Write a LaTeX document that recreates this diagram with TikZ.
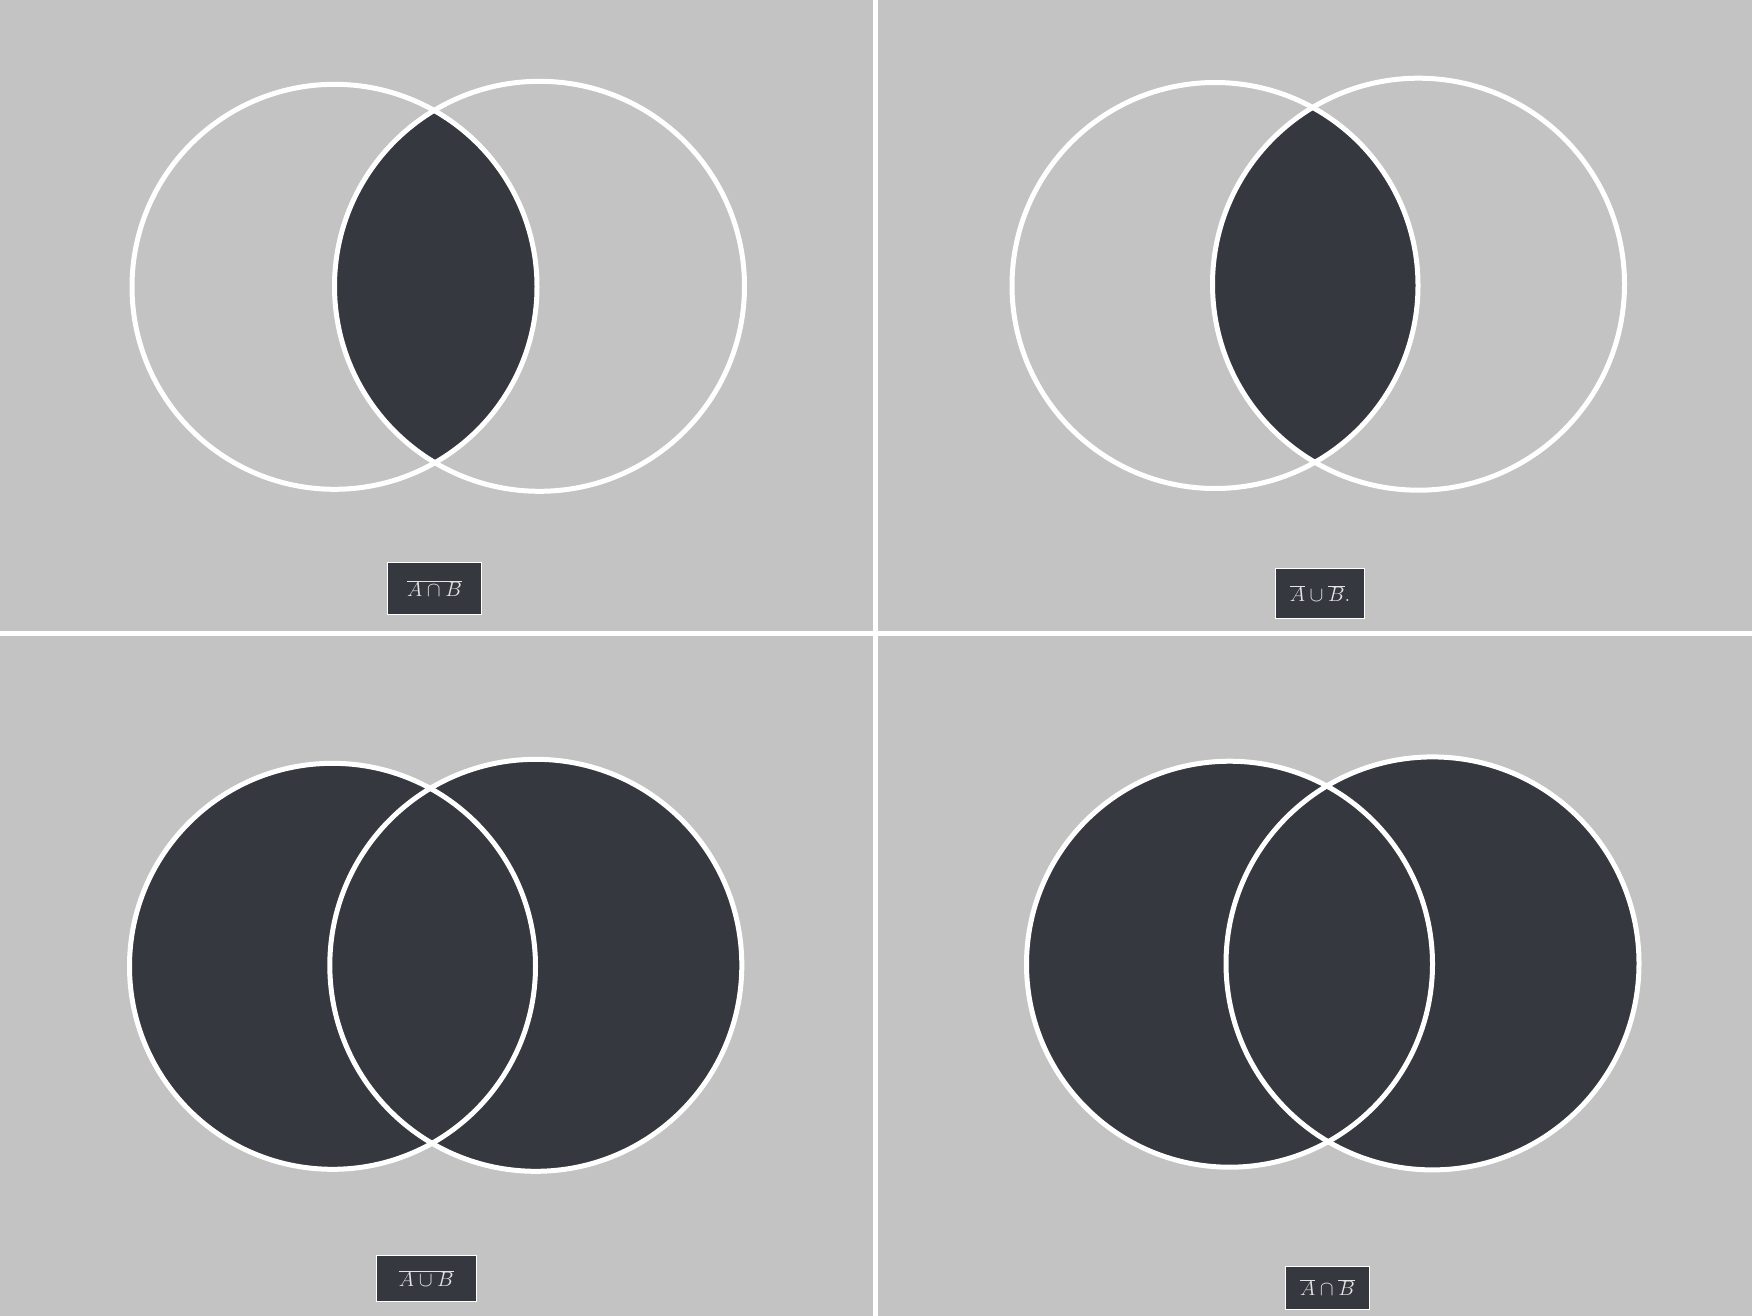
\documentclass[tikz,border=0pt]{standalone}
\begin{document}
\begin{tikzpicture}[x=1pt,y=-1pt,
  ring/.style={draw=white,line width=5pt},
  divider/.style={draw=white,line width=4.7pt},
  lbl/.style={draw=white,line width=1pt,fill=setdark,text=labeltext,inner sep=0pt,
    font=\fontsize{20.5}{24}\selectfont}]
\definecolor{bg}{HTML}{C3C3C3}
\definecolor{setdark}{HTML}{363840}
\definecolor{labeltext}{HTML}{E4E4E4}
\useasboundingbox (0,0) rectangle (1752,1316);
\fill[bg] (0,0) rectangle (1752,1316);
% dividers
\coordinate (vt) at (875.4,0);
\coordinate (vb) at (875.4,1316);
\coordinate (hl) at (0,633.3);
\coordinate (hr) at (1752,633.3);
\draw[divider] (vt) -- (vb);
\draw[divider] (hl) -- (hr);
% Panel 1: intersection shaded
\coordinate (a1) at (334.5,286.8);
\coordinate (b1) at (539.5,286.3);
\begin{scope}
  \clip (a1) circle [radius=202.5pt];
  \fill[setdark] (b1) circle [radius=205pt];
\end{scope}
\draw[ring] (a1) circle [radius=202.5pt];
\draw[ring] (b1) circle [radius=205pt];
\node[lbl,minimum width=94pt,minimum height=52pt] (l1) at (434.5,588.5) {\raisebox{-1.5pt}{$\overline{A\cap B}$}};
% Panel 2: intersection shaded
\coordinate (a2) at (1215,285.5);
\coordinate (b2) at (1418.5,284.2);
\begin{scope}
  \clip (a2) circle [radius=203pt];
  \fill[setdark] (b2) circle [radius=206pt];
\end{scope}
\draw[ring] (a2) circle [radius=203pt];
\draw[ring] (b2) circle [radius=206pt];
\node[lbl,minimum width=89pt,minimum height=50pt] (l2) at (1320,593.2) {\raisebox{-1pt}{$\overline{A}\cup\overline{B}.$}};
% Panel 3: union shaded
\coordinate (a3) at (332.5,966.3);
\coordinate (b3) at (535.8,965.3);
\fill[setdark] (a3) circle [radius=203pt];
\fill[setdark] (b3) circle [radius=206pt];
\draw[ring] (a3) circle [radius=203pt];
\draw[ring] (b3) circle [radius=206pt];
\node[lbl,minimum width=100pt,minimum height=46pt] (l3) at (426.3,1278.3) {\raisebox{-1pt}{$\overline{A\cup B}$}};
% Panel 4: union shaded
\coordinate (a4) at (1229.5,964.2);
\coordinate (b4) at (1432.5,963.4);
\fill[setdark] (a4) circle [radius=203pt];
\fill[setdark] (b4) circle [radius=206.5pt];
\draw[ring] (a4) circle [radius=203pt];
\draw[ring] (b4) circle [radius=206.5pt];
\node[lbl,minimum width=84pt,minimum height=43pt] (l4) at (1327.5,1287.7) {\raisebox{-1pt}{$\overline{A}\cap\overline{B}$}};
\end{tikzpicture}
\end{document}
